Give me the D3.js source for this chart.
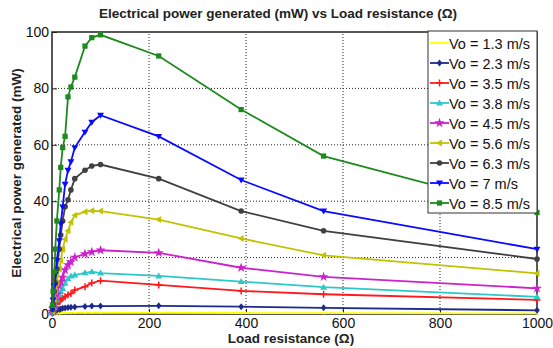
<!DOCTYPE html>
<html>
<head>
<meta charset="utf-8">
<script src="https://cdn.jsdelivr.net/npm/d3@7"></script>
<style>
body { margin: 0; background: #fff; }
text { font-family: "Liberation Sans", Arial, sans-serif; }
</style>
</head>
<body>
<div id="chart"></div>
<script>
var width = 553;
var height = 348;
var padding = { left: 52, right: 16, top: 32, bottom: 34 };

// load resistance (ohm)
var resistance = [1, 2.2, 4.7, 6.8, 10, 15, 18, 22, 27, 33, 39, 47, 68, 82, 100, 220, 390, 560, 1000];

var labels = ["Vo = 1.3 m/s", "Vo = 2.3 m/s", "Vo = 3.5 m/s", "Vo = 3.8 m/s", "Vo = 4.5 m/s",
    "Vo = 5.6 m/s", "Vo = 6.3 m/s", "Vo = 7 m/s", "Vo = 8.5 m/s"];

// power (mW) per wind speed
var p13 = [0.05, 0.1, 0.15, 0.2, 0.25, 0.3, 0.3, 0.35, 0.35, 0.4, 0.4, 0.4, 0.4, 0.4, 0.4, 0.4, 0.35, 0.3, 0.2];
var p23 = [0.3, 0.5, 0.8, 1, 1.3, 1.6, 1.8, 2, 2.1, 2.3, 2.4, 2.5, 2.7, 2.8, 2.8, 2.9, 2.6, 2.2, 1.3];
var p35 = [0.4, 0.9, 1.8, 2.6, 3.5, 4.5, 5, 5.6, 6.1, 6.8, 7.3, 8.5, 9.7, 11, 11.8, 10.3, 8.2, 7, 5];
var p38 = [0.5, 1.2, 2.5, 3.5, 5, 7, 8, 9, 10.9, 12.5, 13.5, 13.8, 14.6, 15, 14.5, 13.5, 11.5, 9.5, 6.1];
var p45 = [0.8, 1.8, 3.5, 5, 7, 10, 11.5, 13, 15.6, 17.4, 18.5, 20.1, 21.3, 22, 22.6, 21.7, 16.4, 13.2, 9.1];
var p56 = [1, 2.5, 5, 8, 11, 16, 19, 23, 26.5, 29.5, 32.5, 35, 36.3, 36.6, 36.5, 33.5, 26.8, 20.8, 14.4];
var p63 = [1.5, 3.5, 8, 11, 16, 23, 28, 33, 38, 40.5, 44, 48, 51, 52.5, 53, 48, 36.5, 29.5, 19.5];
var p70 = [2, 5, 10, 14, 19, 26, 32, 38, 46, 51, 54, 59, 64.5, 68, 70.5, 63, 47.5, 36.5, 23];
var p85 = [3, 8, 15, 23, 33, 44, 52, 59, 63, 77, 80.5, 84, 95, 98, 99, 91.5, 72.5, 56, 36];

var colors = ["#ffff00", "#1c2a8c", "#ff1a1a", "#2ec8c8", "#cc22cc", "#c2c200", "#404040", "#0a0aff", "#1e8a1e"];
var shapes = ["dot", "diamond", "plus", "triUp", "star", "triLeft", "circle", "triDown", "square"];

var series = [p13, p23, p35, p38, p45, p56, p63, p70, p85].map(function (vals, i) {
    return {
        name: labels[i], color: colors[i], shape: shapes[i],
        values: vals.map(function (v, j) { return { r: resistance[j], p: v }; })
    };
});

var svg = d3.select("#chart").append("svg")
    .attr("width", width)
    .attr("height", height);

var x = d3.scaleLinear().domain([0, 1000]).range([padding.left, width - padding.right]);
var y = d3.scaleLinear().domain([0, 100]).range([height - padding.bottom, padding.top]);

// grid
svg.append("g")
    .selectAll("line")
    .data([200, 400, 600, 800])
    .enter().append("line")
    .attr("x1", function (d) { return x(d); })
    .attr("x2", function (d) { return x(d); })
    .attr("y1", y(0)).attr("y2", y(100))
    .attr("stroke", "#222").attr("stroke-width", 1).attr("stroke-dasharray", "1,2");
svg.append("g")
    .selectAll("line")
    .data([20, 40, 60, 80])
    .enter().append("line")
    .attr("y1", function (d) { return y(d); })
    .attr("y2", function (d) { return y(d); })
    .attr("x1", x(0)).attr("x2", x(1000))
    .attr("stroke", "#222").attr("stroke-width", 1).attr("stroke-dasharray", "1,2");

// axes
var xAxis = svg.append("g")
    .attr("transform", "translate(0," + y(0) + ")")
    .call(d3.axisBottom(x).tickValues([0, 200, 400, 600, 800, 1000]).tickFormat(d3.format("d")).tickSize(-5).tickPadding(6));
var yAxis = svg.append("g")
    .attr("transform", "translate(" + x(0) + ",0)")
    .call(d3.axisLeft(y).tickValues([0, 20, 40, 60, 80, 100]).tickFormat(d3.format("d")).tickSize(-5).tickPadding(3));
[xAxis, yAxis].forEach(function (a) {
    a.select(".domain").remove();
    a.selectAll("line").attr("stroke", "#222");
    a.selectAll("text").attr("font-size", 14).attr("fill", "#111")
        .style("font-family", "'Liberation Sans', Arial, sans-serif");
});
xAxis.selectAll("text").attr("dy", "0.6em");
yAxis.selectAll("text").attr("dy", "0.32em");

svg.append("rect")
    .attr("x", x(0)).attr("y", y(100))
    .attr("width", x(1000) - x(0)).attr("height", y(0) - y(100))
    .attr("fill", "none").attr("stroke", "#222").attr("stroke-width", 1.5);

// marker shapes
function marker(g, shape, color, size) {
    var s = size;
    if (shape == "dot") {
        g.append("circle").attr("r", s * 0.35).attr("fill", color);
    } else if (shape == "circle") {
        g.append("circle").attr("r", s * 0.8).attr("fill", color);
    } else if (shape == "square") {
        g.append("rect").attr("x", -s * 0.75).attr("y", -s * 0.75)
            .attr("width", s * 1.5).attr("height", s * 1.5).attr("fill", color);
    } else if (shape == "diamond") {
        g.append("path").attr("d", "M0," + (-s) + "L" + (s * 0.8) + ",0L0," + s + "L" + (-s * 0.8) + ",0Z").attr("fill", color);
    } else if (shape == "plus") {
        g.append("path").attr("d", "M" + (-s) + ",0H" + s + "M0," + (-s) + "V" + s)
            .attr("stroke", color).attr("stroke-width", 1.5);
    } else if (shape == "triUp") {
        g.append("path").attr("d", "M0," + (-s) + "L" + s + "," + (s * 0.7) + "L" + (-s) + "," + (s * 0.7) + "Z").attr("fill", color);
    } else if (shape == "triDown") {
        g.append("path").attr("d", "M0," + s + "L" + s + "," + (-s * 0.7) + "L" + (-s) + "," + (-s * 0.7) + "Z").attr("fill", color);
    } else if (shape == "triLeft") {
        g.append("path").attr("d", "M" + (-s) + ",0L" + (s * 0.7) + "," + (-s) + "L" + (s * 0.7) + "," + s + "Z").attr("fill", color);
    } else if (shape == "star") {
        g.append("path").attr("d", d3.symbol().type(d3.symbolStar).size(s * s * 2.6)).attr("fill", color);
    }
}

var line = d3.line()
    .x(function (d) { return x(d.r); })
    .y(function (d) { return y(d.p); });

var groups = svg.selectAll(".series")
    .data(series)
    .enter().append("g")
    .attr("class", "series");

groups.append("path")
    .attr("d", function (d) { return line(d.values); })
    .attr("fill", "none")
    .attr("stroke", function (d) { return d.color; })
    .attr("stroke-width", 1.8);

groups.each(function (s) {
    d3.select(this).selectAll(".pt")
        .data(s.values)
        .enter().append("g")
        .attr("class", "pt")
        .attr("transform", function (d) { return "translate(" + x(d.r) + "," + y(d.p) + ")"; })
        .each(function () { marker(d3.select(this), s.shape, s.color, 3.5); });
});

// legend
var legend = svg.append("g");
legend.append("rect")
    .attr("x", 428).attr("y", 31)
    .attr("width", x(1000) - 428).attr("height", 182)
    .attr("fill", "#fff").attr("stroke", "#333").attr("stroke-width", 1);

var items = legend.selectAll(".item")
    .data(series)
    .enter().append("g")
    .attr("class", "item")
    .attr("transform", function (d, i) { return "translate(430," + (43 + i * 20) + ")"; });
items.append("line")
    .attr("x1", 0).attr("x2", 19)
    .attr("stroke", function (d) { return d.color; })
    .attr("stroke-width", 1.8);
items.each(function (d) {
    var g = d3.select(this).append("g").attr("transform", "translate(9.5,0)");
    marker(g, d.shape, d.color, 3.5);
});
items.append("text")
    .attr("x", 19).attr("y", 5.5)
    .attr("font-size", 14.5)
    .attr("fill", "#111")
    .text(function (d) { return d.name; });

// titles
svg.append("text")
    .attr("x", 278).attr("y", 18)
    .attr("text-anchor", "middle")
    .attr("font-size", 13.5).attr("font-weight", "bold")
    .attr("fill", "#222")
    .text("Electrical power generated (mW) vs Load resistance (\u03A9)");

svg.append("text")
    .attr("x", 291).attr("y", 343)
    .attr("text-anchor", "middle")
    .attr("font-size", 13.5).attr("font-weight", "bold")
    .attr("fill", "#222")
    .text("Load resistance (\u03A9)");

svg.append("text")
    .attr("transform", "translate(21," + y(50) + ") rotate(-90)")
    .attr("text-anchor", "middle")
    .attr("font-size", 13.5).attr("font-weight", "bold")
    .attr("fill", "#222")
    .text("Electrical power generated (mW)");
</script>
</body>
</html>
